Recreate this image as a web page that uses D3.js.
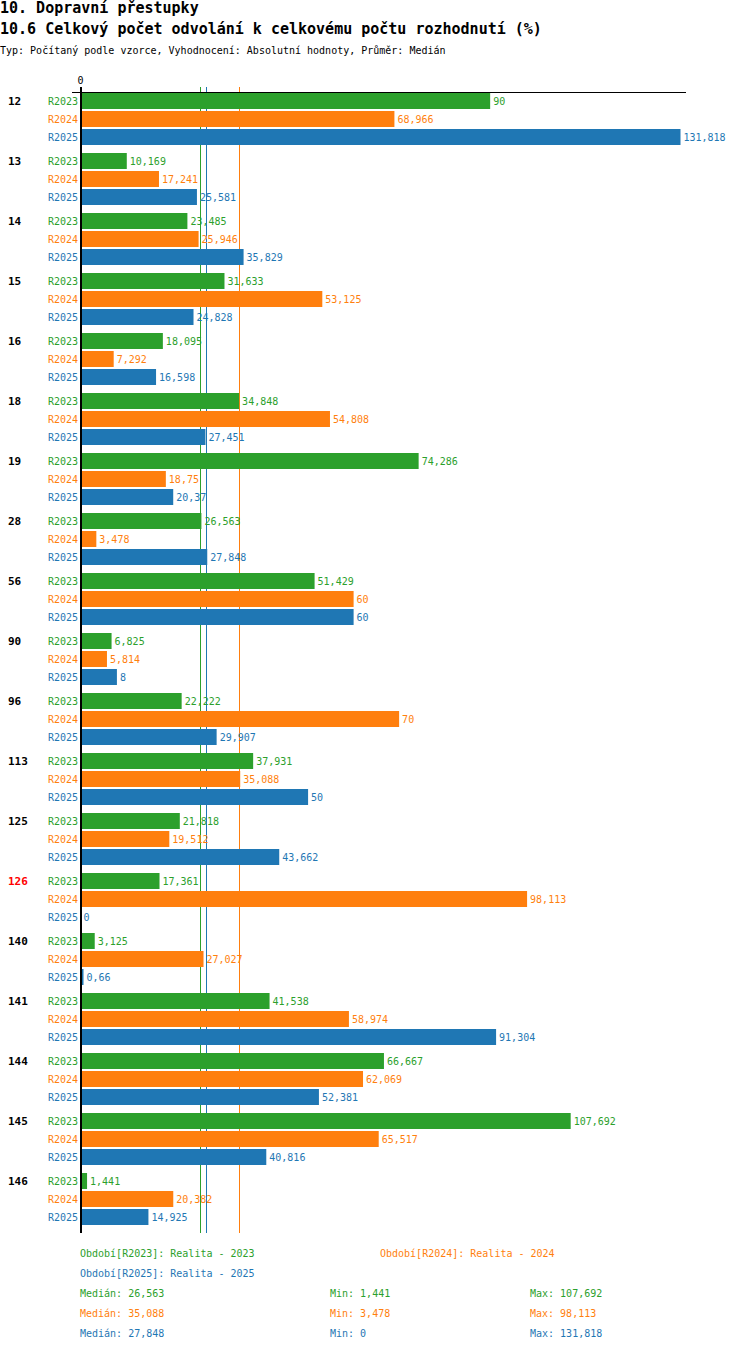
<!DOCTYPE html>
<html>
<head>
<meta charset="utf-8">
<script src="https://cdn.jsdelivr.net/npm/d3@7"></script>
<style>
  body { margin: 0; background: #fff; }
  text { font-family: "DejaVu Sans Mono", "Liberation Mono", monospace; }
</style>
</head>
<body>
<div id="chart"></div>
<script>
/**
 * DATA
 * */
const categories = ["12", "13", "14", "15", "16", "18", "19", "28", "56", "90", "96", "113", "125", "126", "140", "141", "144", "145", "146"];
const series = ["R2023", "R2024", "R2025"];
const seriesNames = ["Realita - 2023", "Realita - 2024", "Realita - 2025"];
const r2023 = [90, 10.169, 23.485, 31.633, 18.095, 34.848, 74.286, 26.563, 51.429, 6.825, 22.222, 37.931, 21.818, 17.361, 3.125, 41.538, 66.667, 107.692, 1.441];
const r2024 = [68.966, 17.241, 25.946, 53.125, 7.292, 54.808, 18.75, 3.478, 60, 5.814, 70, 35.088, 19.512, 98.113, 27.027, 58.974, 62.069, 65.517, 20.382];
const r2025 = [131.818, 25.581, 35.829, 24.828, 16.598, 27.451, 20.37, 27.848, 60, 8, 29.907, 50, 43.662, 0, 0.66, 91.304, 52.381, 40.816, 14.925];
const highlight = "126";

const values = [r2023, r2024, r2025];
const colors = ["#2ca02c", "#ff7f0e", "#1f77b4"];

/**
 * CONSTANTS
 * */
const width = 750, height = 1352;
const fmt = v => String(v).replace(".", ",");

const svg = d3.select("#chart").append("svg")
  .attr("width", width)
  .attr("height", height);

// titles
svg.append("text").attr("x", 0).attr("y", 13)
  .style("font-size", "15px").style("font-weight", "bold")
  .text("10. Dopravní přestupky");
svg.append("text").attr("x", 0).attr("y", 34)
  .style("font-size", "15px").style("font-weight", "bold")
  .text("10.6 Celkový počet odvolání k celkovému počtu rozhodnutí (%)");
svg.append("text").attr("x", 0).attr("y", 54)
  .style("font-size", "10px")
  .text("Typ: Počítaný podle vzorce, Vyhodnocení: Absolutní hodnoty, Průměr: Medián");

// scales
const x = d3.scaleLinear()
  .domain([0, d3.max(r2025)])
  .range([80.5, 680.5]);

const y = d3.scaleBand()
  .domain(categories)
  .range([93, 93 + 60 * categories.length]);

const yInner = d3.scaleBand()
  .domain(series)
  .range([0, 52])
  .paddingInner(2 / 18);

const bottom = 1233;

// median lines (behind bars)
const medians = values.map(v => d3.median(v));
svg.selectAll("line.median")
  .data(medians)
  .join("line")
  .attr("class", "median")
  .attr("x1", d => Math.round(x(d)) - 1 + 0.5)
  .attr("x2", d => Math.round(x(d)) - 1 + 0.5)
  .attr("y1", 87)
  .attr("y2", bottom)
  .attr("stroke", (d, i) => colors[i])
  .attr("stroke-width", 1);

// bars
const rows = [];
categories.forEach((c, ci) => {
  series.forEach((s, si) => {
    rows.push({ cat: c, s, si, value: values[si][ci] });
  });
});

const g = svg.append("g");

g.selectAll("rect")
  .data(rows)
  .join("rect")
  .attr("x", x(0))
  .attr("y", d => y(d.cat) + yInner(d.s))
  .attr("width", d => x(d.value) - x(0))
  .attr("height", yInner.bandwidth())
  .attr("fill", d => colors[d.si]);

// value labels
g.selectAll("text.val")
  .data(rows)
  .join("text")
  .attr("class", "val")
  .attr("x", d => x(d.value) + 3)
  .attr("y", d => y(d.cat) + yInner(d.s) + yInner.bandwidth() / 2 + 4)
  .style("font-size", "10px")
  .attr("fill", d => colors[d.si])
  .text(d => fmt(d.value));

// series labels
g.selectAll("text.ser")
  .data(rows)
  .join("text")
  .attr("class", "ser")
  .attr("x", 78)
  .attr("y", d => y(d.cat) + yInner(d.s) + yInner.bandwidth() / 2 + 4)
  .attr("text-anchor", "end")
  .style("font-size", "10px")
  .attr("fill", d => colors[d.si])
  .text(d => d.s);

// category labels
g.selectAll("text.cat")
  .data(categories)
  .join("text")
  .attr("class", "cat")
  .attr("x", 8)
  .attr("y", d => y(d) + yInner.bandwidth() / 2 + 4)
  .style("font-size", "11px")
  .style("font-weight", "bold")
  .attr("fill", d => d === highlight ? "#ff0000" : "#000")
  .text(d => d);

// axes
svg.append("line")
  .attr("x1", 72).attr("x2", 686)
  .attr("y1", 92.5).attr("y2", 92.5)
  .attr("stroke", "#000").attr("stroke-width", 1);
svg.append("line")
  .attr("x1", 81).attr("x2", 81)
  .attr("y1", 87).attr("y2", bottom)
  .attr("stroke", "#000").attr("stroke-width", 2);
svg.append("text")
  .attr("x", x(0)).attr("y", 84)
  .attr("text-anchor", "middle")
  .style("font-size", "10px")
  .text("0");

// legend
const legend = svg.append("g").style("font-size", "10px");
const legendPos = [[80, 1257], [380, 1257], [80, 1277]];
series.forEach((s, i) => {
  legend.append("text")
    .attr("x", legendPos[i][0]).attr("y", legendPos[i][1])
    .attr("fill", colors[i])
    .text(`Období[${s}]: ${seriesNames[i]}`);
});

values.forEach((v, i) => {
  const yy = 1297 + i * 20;
  legend.append("text").attr("x", 80).attr("y", yy).attr("fill", colors[i])
    .text(`Medián: ${fmt(d3.median(v))}`);
  legend.append("text").attr("x", 330).attr("y", yy).attr("fill", colors[i])
    .text(`Min: ${fmt(d3.min(v))}`);
  legend.append("text").attr("x", 530).attr("y", yy).attr("fill", colors[i])
    .text(`Max: ${fmt(d3.max(v))}`);
});
</script>
</body>
</html>
